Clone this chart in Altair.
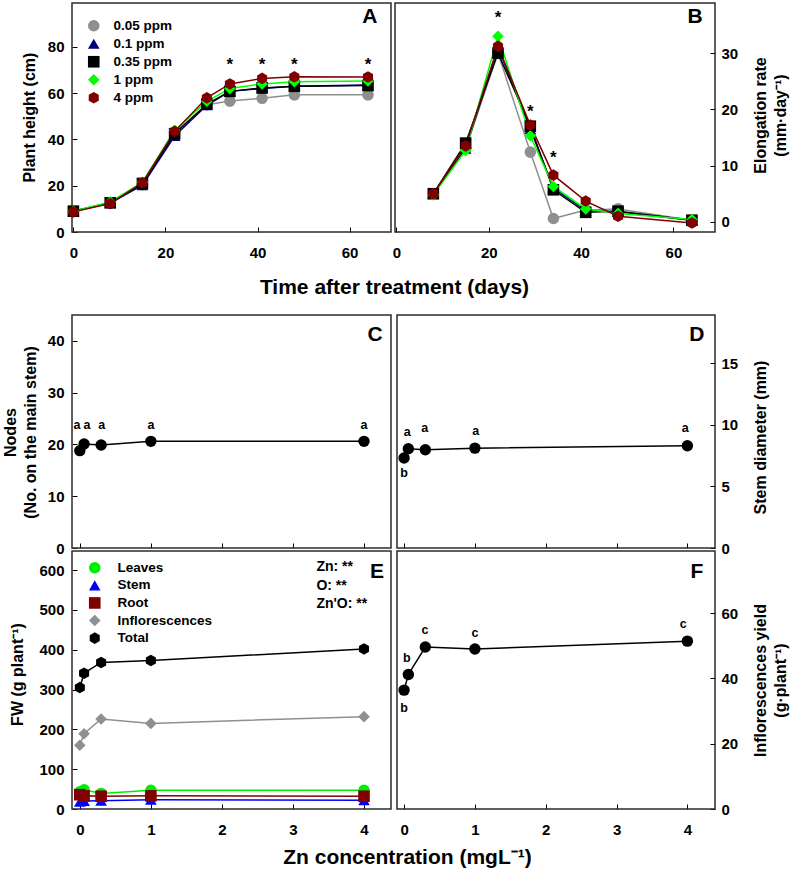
import altair as alt
import pandas as pd

# ---------------- values ----------------
days = [0, 8, 15, 22, 29, 34, 41, 48, 64]
rate_days = [8, 15, 22, 29, 34, 41, 48, 64]
treatments = ["0.05 ppm", "0.1 ppm", "0.35 ppm", "1 ppm", "4 ppm"]

height_005 = [9.0, 12.5, 20.5, 43.0, 55.0, 56.6, 57.8, 59.3, 59.3]
height_01 = [9.0, 12.5, 20.2, 41.5, 54.8, 60.8, 62.0, 63.0, 63.5]
height_035 = [9.0, 12.6, 21.0, 42.5, 55.3, 60.8, 62.3, 63.0, 63.3]
height_1 = [9.0, 13.0, 21.5, 44.0, 56.5, 62.0, 64.0, 65.0, 65.3]
height_4 = [8.7, 12.3, 21.3, 43.5, 58.0, 64.0, 66.4, 67.1, 67.0]

rate_005 = [5.0, 13.0, 30.0, 12.4, 0.6, 2.1, 2.3, 0.3]
rate_01 = [5.0, 13.0, 31.0, 16.5, 6.0, 2.0, 1.8, 0.3]
rate_035 = [5.0, 14.0, 30.0, 17.0, 5.7, 1.7, 1.9, 0.3]
rate_1 = [4.8, 12.7, 33.0, 15.3, 6.3, 2.3, 1.5, 0.4]
rate_4 = [5.0, 13.5, 31.2, 17.2, 8.3, 3.7, 1.0, -0.2]

height_star_days = [34, 41, 48, 64]
height_star_y = [72.3, 72.3, 72.3, 72.3]
rate_star_days = [22, 29, 34]
rate_star_y = [36.3, 19.6, 11.4]

zn = [0, 0.06, 0.3, 1, 4]
nodes = [18.8, 20.1, 19.9, 20.6, 20.6]
nodes_letters = ["a", "a", "a", "a", "a"]
nodes_letter_x = [-0.04, 0.1, 0.31, 1.0, 4.0]
nodes_letter_y = [23.8, 23.8, 23.8, 23.8, 23.8]

diameter = [7.3, 8.05, 7.97, 8.1, 8.3]
diameter_letters = ["b", "a", "a", "a", "a"]
diameter_letter_x = [0.0, 0.045, 0.29, 1.01, 3.97]
diameter_letter_y = [6.1, 9.4, 9.7, 9.5, 9.7]

inflo_yield = [36.4, 41.2, 49.6, 49.0, 51.4]
yield_letters = ["b", "b", "c", "c", "c"]
yield_letter_x = [0.0, 0.037, 0.295, 1.0, 3.94]
yield_letter_y = [30.8, 46.1, 54.8, 54.0, 56.6]

fw_parts = ["Leaves", "Stem", "Root", "Inflorescences", "Total"]
fw_leaves = [43, 48, 39, 47, 47]
fw_stem = [18, 20, 21, 23, 22]
fw_root = [36, 33, 32, 33, 32]
fw_infl = [160, 189, 226, 215, 232]
fw_total = [305, 341, 368, 373, 402]
fw_stats = ["Zn: **", "O: **", "Zn'O: **"]
fw_stats_x = [3.33, 3.33, 3.33]
fw_stats_y = [607, 561, 515]

# ---------------- styling ----------------
FONT = "Liberation Sans"
CANVAS_W, CANVAS_H = 794, 875
TICK = 5
HEXAGON = "M0,-1L0.866,-0.5L0.866,0.5L0,1L-0.866,0.5L-0.866,-0.5Z"

trt_colors = ["#8f8f8f", "#00007f", "#000000", "#00ff00", "#800000"]
trt_shapes = ["circle", "triangle-up", "square", "diamond", HEXAGON]
part_colors = ["#00ee00", "#0000ff", "#800000", "#8f8f8f", "#000000"]
part_shapes = ["circle", "triangle-up", "square", "diamond", HEXAGON]

# pixel box of every panel: left, right, top, bottom
BOX = {
    "A": (72, 391, 3, 232),
    "B": (395, 715, 3, 232),
    "C": (72, 391, 315, 548),
    "D": (397, 715, 315, 548),
    "E": (72, 391, 551, 809),
    "F": (397, 715, 551, 809),
}
XDOM = {"A": (-0.3, 69), "B": (-0.3, 69), "C": (-0.11, 4.38),
        "D": (-0.1, 4.39), "E": (-0.11, 4.38), "F": (-0.1, 4.39)}
YDOM = {"A": (0, 99), "B": (-1.8, 38.9), "C": (0, 45),
        "D": (0, 18.9), "E": (0, 648), "F": (0, 79)}
# panel letter placement as fractions of the x and y domains
LETTER_AT = {"A": (0.934, 0.939), "B": (0.9375, 0.939), "C": (0.95, 0.914),
             "D": (0.943, 0.914), "E": (0.956, 0.919), "F": (0.943, 0.919)}


def scales(p):
    l, r, t, b = BOX[p]
    xs = alt.Scale(domain=list(XDOM[p]), range=[l, r], nice=False, zero=False)
    ys = alt.Scale(domain=list(YDOM[p]), range=[b, t], nice=False, zero=False)
    return xs, ys


# multi-line axis titles: the first line sits on (tx, ty), later lines follow to the right
def left_axis(p, values, title, tx, ty):
    x_axis = BOX[p][0] + TICK
    return alt.Axis(orient="left", offset=-x_axis, tickSize=TICK, domain=False,
                    values=values, labelPadding=8, labelFlush=False, grid=False,
                    title=title, titleX=tx - x_axis, titleY=ty, titleAngle=270,
                    titleAlign="center", titleBaseline="middle", titleLineHeight=20)


def right_axis(p, values, title, tx, ty):
    x_axis = BOX[p][1] - TICK
    return alt.Axis(orient="right", offset=x_axis - CANVAS_W, tickSize=TICK, domain=False,
                    values=values, labelPadding=6, labelFlush=False, grid=False,
                    title=title, titleX=tx - x_axis, titleY=ty, titleAngle=270,
                    titleAlign="center", titleBaseline="middle", titleLineHeight=20)


def bottom_axis(p, values, labels=True, title=None, tx=0, ty=0):
    y_axis = BOX[p][3] - TICK
    kw = dict(orient="bottom", offset=y_axis - CANVAS_H, tickSize=TICK, domain=False,
              values=values, labels=labels, labelPadding=13, labelFlush=False, grid=False)
    if title:
        kw.update(title=title, titleX=tx, titleY=ty - y_axis, titleFontSize=21,
                  titleAlign="center", titleBaseline="middle")
    else:
        kw["title"] = None
    return alt.Axis(**kw)


def enc(xf, yf, xs, ys, xa, ya):
    return dict(x=alt.X(xf, type="quantitative", scale=xs, axis=xa),
                y=alt.Y(yf, type="quantitative", scale=ys, axis=ya))


def frame(p, xs, ys, xa, ya):
    df = pd.DataFrame({"x0": [XDOM[p][0]], "x1": [XDOM[p][1]],
                       "y0": [YDOM[p][0]], "y1": [YDOM[p][1]]})
    return alt.Chart(df).mark_rect(fillOpacity=0, stroke="#2b2b2b", strokeWidth=1.5).encode(
        x2="x1:Q", y2="y1:Q", **enc("x0", "y0", xs, ys, xa, ya))


def panel_letter(p, xs, ys, xa, ya):
    fx, fy = LETTER_AT[p]
    x0, x1 = XDOM[p]
    y0, y1 = YDOM[p]
    df = pd.DataFrame({"x": [x0 + fx * (x1 - x0)], "y": [y0 + fy * (y1 - y0)], "t": [p]})
    return alt.Chart(df).mark_text(fontSize=21, fontWeight="bold", color="black",
                                   align="center", baseline="middle").encode(
        text="t:N", **enc("x", "y", xs, ys, xa, ya))


def text_layer(df, xs, ys, xa, ya, size, align="center"):
    return alt.Chart(df).mark_text(fontSize=size, fontWeight="bold", color="black",
                                   align=align, baseline="middle").encode(
        text="t:N", **enc("x", "y", xs, ys, xa, ya))


def long_frame(xvals, series, names):
    rows = []
    for name, vals in zip(names, series):
        for xv, v in zip(xvals, vals):
            rows.append({"x": xv, "y": v, "s": name})
    return pd.DataFrame(rows)


def series_layers(df, xs, ys, xa, ya, names, colors, shapes, size, legend):
    # one connecting line per series, drawn in its own colour
    lines = [
        alt.Chart(df).transform_filter(alt.datum.s == name)
        .mark_line(color=c, strokeWidth=1.5).encode(**enc("x", "y", xs, ys, xa, ya))
        for name, c in zip(names, colors)
    ]
    if legend is None:
        color = alt.Color("s:N", scale=alt.Scale(domain=names, range=colors), legend=None)
        shape = alt.Shape("s:N", scale=alt.Scale(domain=names, range=shapes), legend=None)
    else:
        color = alt.Color("s:N", scale=alt.Scale(domain=names, range=colors), legend=legend)
        shape = alt.Shape("s:N", scale=alt.Scale(domain=names, range=shapes), legend=legend)
    points = alt.Chart(df).mark_point(filled=True, size=size, opacity=1).encode(
        color=color, shape=shape, **enc("x", "y", xs, ys, xa, ya))
    return lines, points


def make_legend(lx, ly, offset, row_pad, size):
    return alt.Legend(orient="none", legendX=lx, legendY=ly, title=None, padding=0,
                      labelOffset=offset, rowPadding=row_pad, symbolSize=size,
                      labelFontSize=13.5, labelFontWeight="bold", labelColor="black",
                      symbolStrokeWidth=0, symbolOpacity=1)


# ---------------- A: plant height ----------------
xs, ys = scales("A")
xa = bottom_axis("A", [0, 20, 40, 60], title="Time after treatment (days)", tx=394, ty=287)
ya = left_axis("A", [0, 20, 40, 60, 80], "Plant height (cm)", 29, 117)
dfA = long_frame(days, [height_005, height_01, height_035, height_1, height_4], treatments)
lA, pA = series_layers(dfA, xs, ys, xa, ya, treatments, trt_colors, trt_shapes, 135,
                       make_legend(87, 19, 13, 3, 135))
starsA = text_layer(pd.DataFrame({"x": height_star_days, "y": height_star_y,
                                  "t": ["*"] * len(height_star_days)}), xs, ys, xa, ya, 17)
panelA = alt.layer(frame("A", xs, ys, xa, ya), *lA, pA, starsA,
                   panel_letter("A", xs, ys, xa, ya))

# ---------------- B: elongation rate ----------------
xs, ys = scales("B")
xa = bottom_axis("B", [0, 20, 40, 60])
ya = right_axis("B", [0, 10, 20, 30], ["Elongation rate", "(mm·day⁻¹)"], 760, 115)
dfB = long_frame(rate_days, [rate_005, rate_01, rate_035, rate_1, rate_4], treatments)
lB, pB = series_layers(dfB, xs, ys, xa, ya, treatments, trt_colors, trt_shapes, 135, None)
starsB = text_layer(pd.DataFrame({"x": rate_star_days, "y": rate_star_y,
                                  "t": ["*"] * len(rate_star_days)}), xs, ys, xa, ya, 17)
panelB = alt.layer(frame("B", xs, ys, xa, ya), *lB, pB, starsB,
                   panel_letter("B", xs, ys, xa, ya))


def single_panel(p, values, xa, ya, letters, lx, ly):
    xs, ys = scales(p)
    df = pd.DataFrame({"x": zn, "y": values})
    line = alt.Chart(df).mark_line(color="black", strokeWidth=1.5).encode(
        **enc("x", "y", xs, ys, xa, ya))
    pts = alt.Chart(df).mark_point(filled=True, size=130, opacity=1, color="black").encode(
        **enc("x", "y", xs, ys, xa, ya))
    lab = text_layer(pd.DataFrame({"x": lx, "y": ly, "t": letters}), xs, ys, xa, ya, 12.5)
    return alt.layer(frame(p, xs, ys, xa, ya), line, pts, lab, panel_letter(p, xs, ys, xa, ya))


# ---------------- C: nodes ----------------
panelC = single_panel(
    "C", nodes,
    bottom_axis("C", [0, 1, 2, 3, 4], labels=False),
    left_axis("C", [0, 10, 20, 30, 40], ["Nodes", "(No. on the main stem)"], 10, 432),
    nodes_letters, nodes_letter_x, nodes_letter_y)

# ---------------- D: stem diameter ----------------
panelD = single_panel(
    "D", diameter,
    bottom_axis("D", [0, 1, 2, 3, 4], labels=False),
    right_axis("D", [0, 5, 10, 15], "Stem diameter (mm)", 760, 437),
    diameter_letters, diameter_letter_x, diameter_letter_y)

# ---------------- E: fresh weight ----------------
xs, ys = scales("E")
xa = bottom_axis("E", [0, 1, 2, 3, 4], title="Zn concentration (mgL⁻¹)", tx=407, ty=857)
ya = left_axis("E", [0, 100, 200, 300, 400, 500, 600], "FW (g plant⁻¹)", 17, 674)
dfE = long_frame(zn, [fw_leaves, fw_stem, fw_root, fw_infl, fw_total], fw_parts)
lE, pE = series_layers(dfE, xs, ys, xa, ya, fw_parts, part_colors, part_shapes, 135,
                       make_legend(88, 561, 16, 2.6, 135))
statsE = text_layer(pd.DataFrame({"x": fw_stats_x, "y": fw_stats_y, "t": fw_stats}),
                    xs, ys, xa, ya, 14, align="left")
panelE = alt.layer(frame("E", xs, ys, xa, ya), *lE, pE, statsE,
                   panel_letter("E", xs, ys, xa, ya))

# ---------------- F: inflorescence yield ----------------
panelF = single_panel(
    "F", inflo_yield,
    bottom_axis("F", [0, 1, 2, 3, 4]),
    right_axis("F", [0, 20, 40, 60], ["Inflorescences yield", "(g·plant⁻¹)"], 760, 680),
    yield_letters, yield_letter_x, yield_letter_y)

chart = (
    alt.layer(panelA, panelB, panelC, panelD, panelE, panelF)
    .resolve_scale(x="independent", y="independent", color="independent",
                   shape="independent")
    .resolve_axis(x="independent", y="independent")
    .resolve_legend(color="independent", shape="independent")
    .properties(width=CANVAS_W, height=CANVAS_H, padding=0, background="white",
                autosize=alt.AutoSizeParams(type="none"))
    .configure(font=FONT)
    .configure_view(stroke="transparent")
    .configure_axis(labelFont=FONT, labelFontSize=15, labelFontWeight="bold",
                    labelColor="black", titleFont=FONT, titleFontSize=16,
                    titleFontWeight="bold", titleColor="black", tickColor="black",
                    tickWidth=1)
    .configure_legend(labelFont=FONT)
)

chart.save("out.html", embed_options={"renderer": "svg", "actions": False})
